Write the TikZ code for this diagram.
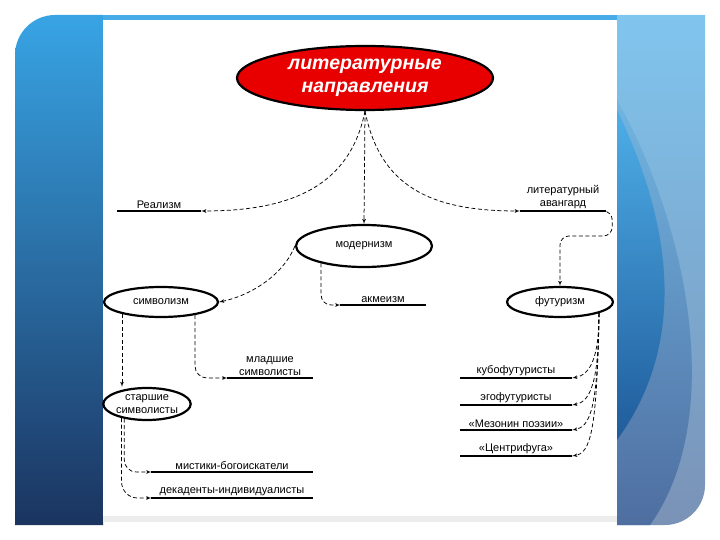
\documentclass[tikz,border=0pt]{standalone}
\usepackage{fontspec}
\setmainfont{Liberation Sans}
\usetikzlibrary{shapes.geometric,arrows}

\definecolor{slideblue}{RGB}{56,164,228}
\definecolor{slidenavy}{RGB}{27,52,96}
\definecolor{skyblue}{RGB}{128,197,238}
\definecolor{steelblue}{RGB}{78,110,160}
\definecolor{deepblue}{RGB}{32,92,156}
\definecolor{greyblue}{RGB}{122,146,182}
\definecolor{titlered}{RGB}{232,0,0}

\tikzstyle{direction} = [ellipse, draw, line width=2.2pt, inner sep=0pt,
  align=center, font=\fontsize{11}{12.5}\selectfont]
\tikzstyle{title} = [direction, fill=titlered, text=white,
  font=\fontsize{19.5}{23.5}\selectfont\bfseries\itshape]
\tikzstyle{branch} = [inner xsep=0pt, inner ysep=2.5pt, anchor=south,
  align=center, font=\fontsize{11}{12.5}\selectfont]
\tikzstyle{underline} = [draw, line width=2.8pt]
\tikzstyle{line} = [draw, line width=0.75pt, dash pattern=on 4pt off 2.5pt, -latex']
\newcommand{\branch}[3]{node (b#1) [branch, minimum width=#2] {#3}}

\begin{document}
\begin{tikzpicture}[x=1pt, y=-1pt]
\useasboundingbox (0,0) rectangle (720,540);

% Slide background
\begin{scope}
  \clip (15,525) -- (15,55) .. controls (15,33) and (33,15) .. (55,15)
    -- (705,15) -- (705,485) .. controls (705,507) and (687,525) .. (665,525) -- cycle;
  \shade[top color=slideblue, bottom color=slidenavy] (15,15) rectangle (103,525);
  \fill[slideblue!80!skyblue] (103,15) rectangle (617,25);
  \shade[top color=skyblue, bottom color=greyblue] (617,15) rectangle (705,525);
  \shade[top color=skyblue!85!deepblue, bottom color=steelblue]
    (617,100) .. controls (690,230) and (725,420) .. (650,525) -- (617,525) -- cycle;
  \shade[top color=slideblue!70!skyblue, bottom color=deepblue]
    (617,110) .. controls (670,220) and (690,340) .. (617,440) -- cycle;
\end{scope}
\fill[white] (103,20) rectangle (617,522);
\fill[black!7] (103,516) rectangle (617,522);

% Draw diagram elements
\node (lit) [title, minimum width=256pt, minimum height=64pt] at (365,78)
  {литературные\\направления};
\node (mod) [direction, minimum width=136pt, minimum height=42pt] at (364,246) {модернизм};
\node (sym) [direction, minimum width=114pt, minimum height=30pt] at (161,302) {символизм};
\node (old) [direction, minimum width=86pt, minimum height=32pt] at (147,404)
  {старшие\\символисты};
\node (fut) [direction, minimum width=106pt, minimum height=30pt] at (560,302) {футуризм};

\path (159,211) \branch{rea}{84pt}{Реализм};
\path (563,211) \branch{av}{86pt}{литературный\\авангард};
\path (383,305) \branch{ak}{85pt}{акмеизм};
\path (270,378) \branch{ml}{85pt}{младшие\\символисты};
\path (232,472) \branch{my}{161pt}{мистики-богоискатели};
\path (232,498) \branch{de}{161pt}{декаденты-индивидуалисты};
\path (516,378) \branch{ku}{112pt}{кубофутуристы};
\path (516,405) \branch{eg}{112pt}{эгофутуристы};
\path (516,430) \branch{me}{112pt}{«Мезонин поэзии»};
\path (516,456) \branch{ce}{112pt}{«Центрифуга»};

% Underlines
\path [underline] (brea.south west) -- (brea.south east);
\path [underline] (bav.south west) -- (bav.south east);
\path [underline] (bak.south west) -- (bak.south east);
\path [underline] (bml.south west) -- (bml.south east);
\path [underline] (bmy.south west) -- (bmy.south east);
\path [underline] (bde.south west) -- (bde.south east);
\path [underline] (bku.south west) -- (bku.south east);
\path [underline] (beg.south west) -- (beg.south east);
\path [underline] (bme.south west) -- (bme.south east);
\path [underline] (bce.south west) -- (bce.south east);

% Draw arrows between elements
\path [line] (lit.south) .. controls +(-15,75) and +(90,0) .. (brea.south east);
\path [line] (lit.south) -- (mod.north);
\path [line] (lit.south) .. controls +(15,75) and +(-90,0) .. (bav.south west);
\path [line, rounded corners=9] (bav.south east) -| ++(6,25) -| (fut.north);

\path [line, rounded corners=10] (mod.202) |- (bak.south west);
\path [line] (mod.west) .. controls +(-12,30) and +(30,-6) .. (sym.east);

\path [line] (sym.197) -- (old.north -| sym.197);
\path [line, rounded corners=12] (sym.339) |- (bml.south west);

\path [line, rounded corners=12] (old.213) |- (bmy.south west);
\path [line, rounded corners=16] (old.209) |- (bde.south west);

\path [line] (fut.344) .. controls +(0,45) and +(18,-3) .. (bku.south east);
\path [line] (fut.344) .. controls +(0,70) and +(18,-3) .. (beg.south east);
\path [line] (fut.344) .. controls +(-1,95) and +(18,-3) .. (bme.south east);
\path [line] (fut.344) .. controls +(-2,120) and +(18,-3) .. (bce.south east);

\end{tikzpicture}
\end{document}
